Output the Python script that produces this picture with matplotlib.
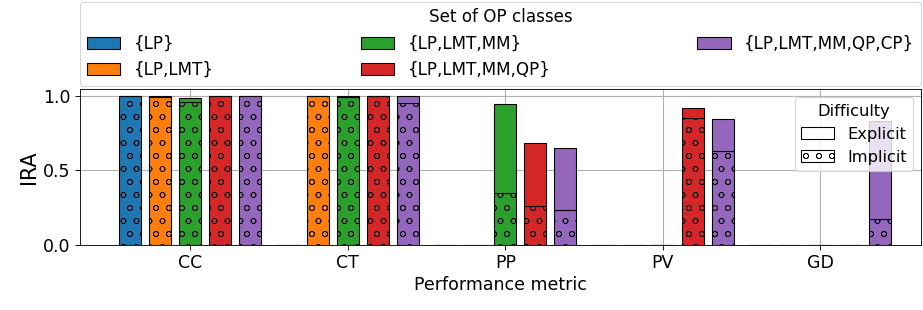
import numpy as np
import matplotlib
matplotlib.use("Agg")
import matplotlib.pyplot as plt
from matplotlib.patches import Patch

metrics = ["CC", "CT", "PP", "PV", "GD"]
op_sets = ["{LP}", "{LP,LMT}", "{LP,LMT,MM}", "{LP,LMT,MM,QP}", "{LP,LMT,MM,QP,CP}"]

# IRA split into implicit part (bottom, hatched) and explicit part (on top)
implicit = {
    "{LP}":               [1.00, 0.00, 0.00, 0.00, 0.00],
    "{LP,LMT}":           [0.99, 1.00, 0.00, 0.00, 0.00],
    "{LP,LMT,MM}":        [0.962, 0.99, 0.347, 0.00, 0.00],
    "{LP,LMT,MM,QP}":     [1.00, 1.00, 0.262, 0.85, 0.00],
    "{LP,LMT,MM,QP,CP}":  [1.00, 0.951, 0.235, 0.633, 0.175],
}
explicit = {
    "{LP}":               [0.00, 0.00, 0.00, 0.00, 0.00],
    "{LP,LMT}":           [0.01, 0.00, 0.00, 0.00, 0.00],
    "{LP,LMT,MM}":        [0.023, 0.01, 0.601, 0.00, 0.00],
    "{LP,LMT,MM,QP}":     [0.00, 0.00, 0.425, 0.067, 0.00],
    "{LP,LMT,MM,QP,CP}":  [0.00, 0.049, 0.414, 0.213, 0.655],
}

colors = ["#1f77b4", "#ff7f0e", "#2ca02c", "#d62728", "#9467bd"]

plt.rcParams["hatch.linewidth"] = 0.6
dpi = 78
fig = plt.figure(figsize=(923 / dpi, 310 / dpi), dpi=dpi)
ax = fig.add_axes([0.0867, 0.21, 0.9113, 0.503])

x = np.arange(len(metrics))
width = 0.14
step = 0.19
for i, name in enumerate(op_sets):
    pos = x + (i - 2) * step
    imp = np.array(implicit[name])
    exp = np.array(explicit[name])
    ax.bar(pos, imp, width, color=colors[i], edgecolor="black", linewidth=1.0,
           hatch="o", zorder=3)
    ax.bar(pos, exp, width, bottom=imp, color=colors[i], edgecolor="black",
           linewidth=1.0, zorder=3)

ax.set_xticks(x)
ax.set_xticklabels(metrics)
ax.set_yticks([0.0, 0.5, 1.0])
ax.set_xlim(-0.7, 4.64)
ax.set_ylim(0, 1.047)
ax.tick_params(labelsize=16, length=5)
ax.set_xlabel("Performance metric", fontsize=16)
ax.set_ylabel("IRA", fontsize=19)
ax.grid(True, color="#b0b0b0", linewidth=1.0)
ax.set_axisbelow(True)

set_handles = [Patch(facecolor=c, edgecolor="black", label=n) for c, n in zip(colors, op_sets)]
leg1 = ax.legend(handles=set_handles, title="Set of OP classes", ncol=3,
                 loc="lower left", bbox_to_anchor=(0, 1.02, 1, 0.2), mode="expand",
                 fontsize=15.5, title_fontsize=15.5, borderaxespad=0)
ax.add_artist(leg1)

diff_handles = [Patch(facecolor="white", edgecolor="black", label="Explicit"),
                Patch(facecolor="white", edgecolor="black", hatch="o", label="Implicit")]
ax.legend(handles=diff_handles, title="Difficulty", loc="upper right",
          fontsize=15, title_fontsize=15)

fig.savefig("out.png", dpi=dpi)
